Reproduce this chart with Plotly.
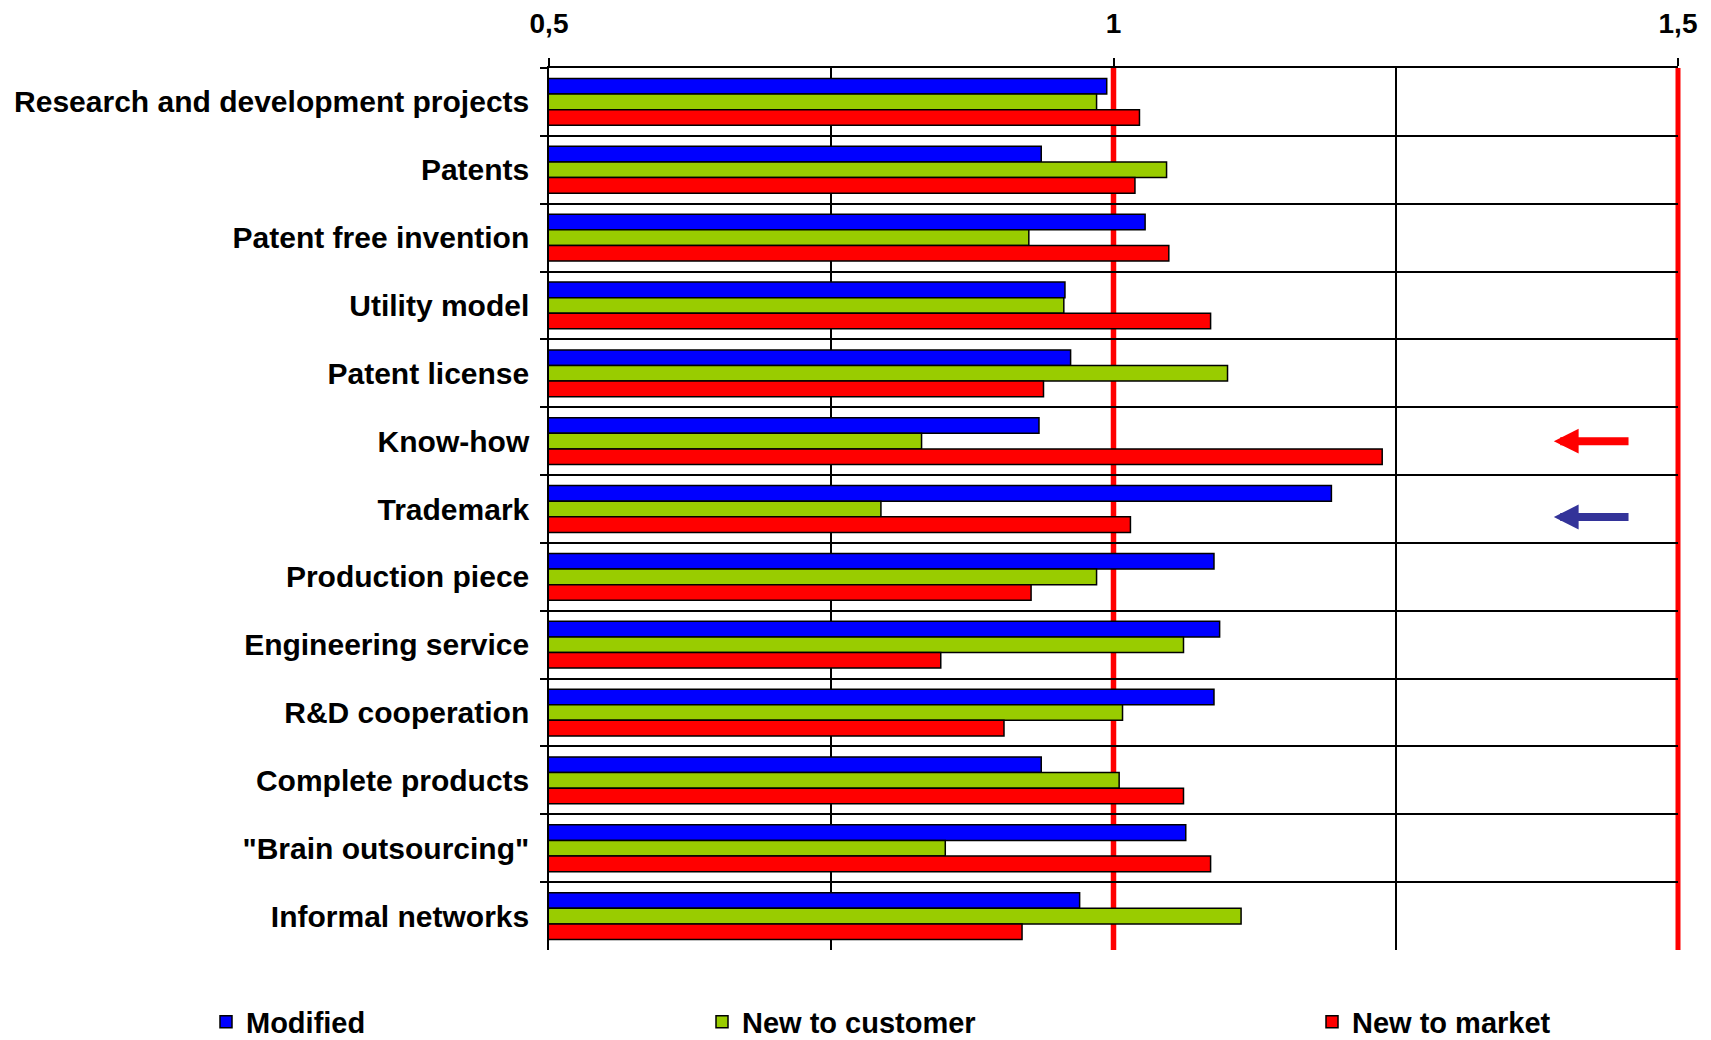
import plotly.graph_objects as go

categories = [
    "Research and development projects",
    "Patents",
    "Patent free invention",
    "Utility model",
    "Patent license",
    "Know-how",
    "Trademark",
    "Production piece",
    "Engineering service",
    "R&D cooperation",
    "Complete products",
    "\"Brain outsourcing\"",
    "Informal networks",
]
modified = [0.994, 0.936, 1.028, 0.957, 0.962, 0.934, 1.193, 1.089, 1.094, 1.089, 0.936, 1.064, 0.970]
new_to_customer = [0.985, 1.047, 0.925, 0.956, 1.101, 0.830, 0.794, 0.985, 1.062, 1.008, 1.005, 0.851, 1.113]
new_to_market = [1.023, 1.019, 1.049, 1.086, 0.938, 1.238, 1.015, 0.927, 0.847, 0.903, 1.062, 1.086, 0.919]

series_names = ["Modified", "New to customer", "New to market"]
series_colors = ["#0000FF", "#99CC00", "#FF0000"]
tick_vals = [0.5, 1.0, 1.5]
tick_text = ["0,5", "1", "1,5"]

FONT = "Liberation Sans, Arial, sans-serif"
W, H = 1703, 1032  # page body adds an 8px margin

fig = go.Figure()
legends = ["legend", "legend2", "legend3"]
for name, vals, col, lg in zip(series_names, [modified, new_to_customer, new_to_market], series_colors, legends):
    fig.add_trace(go.Bar(
        y=categories, x=vals, name=name, orientation="h",
        marker=dict(color=col, line=dict(color="black", width=1.5)),
        legend=lg,
    ))

# red reference lines at 1 and at the right edge (1.5), behind bars
fig.add_shape(type="line", xref="x", yref="paper", x0=1.0, x1=1.0, y0=0, y1=1,
              line=dict(color="#FF0000", width=5.5), layer="between")
fig.add_shape(type="line", xref="paper", yref="paper", x0=1, x1=1, y0=0, y1=1,
              line=dict(color="#FF0000", width=5), layer="between")

# arrows
fig.add_annotation(x=1.390, y="Know-how", ax=1.4575, ay="Know-how", axref="x", ayref="y",
                   xref="x", yref="y", text="", showarrow=True, arrowhead=2,
                   arrowwidth=8, arrowsize=0.62, arrowcolor="#FF0000")
fig.add_annotation(x=1.390, y="Trademark", ax=1.4575, ay="Trademark", axref="x", ayref="y",
                   xref="x", yref="y", text="", showarrow=True, arrowhead=2,
                   arrowwidth=8, arrowsize=0.62, arrowcolor="#333399", yshift=-8)

leg_common = dict(orientation="h", xref="container", yref="container", yanchor="middle",
                  y=(H - (1022 - 8)) / H, xanchor="left", bgcolor="rgba(0,0,0,0)",
                  font=dict(family=FONT, size=29, color="black", weight="bold"))

fig.update_layout(
    width=W, height=H,
    paper_bgcolor="white", plot_bgcolor="white",
    margin=dict(l=541, r=33, t=60, b=90, autoexpand=False),
    barmode="group", bargap=0.31, bargroupgap=0,
    showlegend=True,
    legend=dict(x=(206 - 8) / W, **leg_common),
    legend2=dict(x=(702 - 8) / W, **leg_common),
    legend3=dict(x=(1312 - 8) / W, **leg_common),
    xaxis=dict(
        side="top", range=[0.5, 1.5], tickmode="array", tickvals=tick_vals, ticktext=tick_text,
        ticks="outside", ticklen=8, tickcolor="black", tickwidth=1.5,
        ticklabelstandoff=14, automargin=False,
        tickfont=dict(family=FONT, size=28, color="black", weight="bold"),
        showgrid=False, zeroline=False,
        showline=True, linecolor="black", linewidth=1.5,
        minor=dict(tickvals=[0.75, 1.25], showgrid=True, gridcolor="black", gridwidth=1.5, ticks=""),
    ),
    yaxis=dict(
        type="category", categoryorder="array", categoryarray=categories, autorange="reversed",
        tickson="boundaries", ticks="outside", ticklen=7, tickcolor="black", tickwidth=1.5,
        ticklabelstandoff=12, automargin=False,
        tickfont=dict(family=FONT, size=30, color="black", weight="bold"),
        showgrid=True, gridcolor="black", gridwidth=1.5,
        showline=True, linecolor="black", linewidth=1.5, zeroline=False,
    ),
)

fig.write_html("out.html")
